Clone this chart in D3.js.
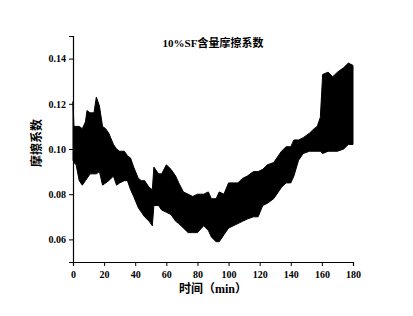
<!DOCTYPE html>
<html>
<head>
<meta charset="utf-8">
<script src="https://cdn.jsdelivr.net/npm/d3@7"></script>
<style>
  body { margin: 0; background: #fff; }
  svg text { font-family: "Liberation Serif", "Noto Sans CJK SC", serif; font-weight: bold; }
</style>
</head>
<body>
<div id="chart"></div>
<script>
const chartWidth = 413
const chartHeight = 316
const margin = { top: 36, right: 60, bottom: 54, left: 73 }

// 讀圖得到的上下包絡線 (時間 min, 摩擦系數)
const minutes = [0, 0.6, 2, 4, 6, 8, 9, 11, 13.5, 15, 17, 19, 21, 23, 26, 28, 30, 33, 35, 37, 39, 42, 44, 46, 49, 51, 52, 55, 57, 60, 63, 66, 68, 71, 74, 77, 80, 84, 87, 89, 92, 94, 97, 100, 103, 106, 109, 112, 116, 119, 122, 125, 129, 132, 134, 137, 140, 142, 145, 148, 152, 155, 157, 159, 160.5, 164, 167, 170, 174, 177, 180]
const upper = [0.121, 0.110, 0.110, 0.110, 0.109, 0.112, 0.117, 0.116, 0.116, 0.123, 0.119, 0.110, 0.109, 0.107, 0.102, 0.100, 0.099, 0.099, 0.097, 0.096, 0.092, 0.087, 0.086, 0.086, 0.083, 0.082, 0.092, 0.089, 0.089, 0.093, 0.091, 0.088, 0.085, 0.081, 0.080, 0.079, 0.080, 0.080, 0.081, 0.078, 0.078, 0.081, 0.080, 0.085, 0.085, 0.085, 0.087, 0.088, 0.090, 0.090, 0.091, 0.093, 0.094, 0.097, 0.099, 0.101, 0.101, 0.104, 0.104, 0.105, 0.107, 0.109, 0.110, 0.114, 0.133, 0.134, 0.132, 0.134, 0.136, 0.138, 0.137]
const lower = [0.095, 0.094, 0.093, 0.086, 0.084, 0.086, 0.087, 0.089, 0.089, 0.089, 0.090, 0.084, 0.085, 0.086, 0.088, 0.084, 0.085, 0.086, 0.086, 0.082, 0.079, 0.074, 0.072, 0.070, 0.068, 0.066, 0.075, 0.075, 0.073, 0.072, 0.071, 0.068, 0.067, 0.065, 0.063, 0.063, 0.063, 0.066, 0.064, 0.061, 0.059, 0.059, 0.062, 0.065, 0.066, 0.067, 0.068, 0.069, 0.070, 0.070, 0.075, 0.076, 0.078, 0.081, 0.083, 0.085, 0.085, 0.088, 0.095, 0.098, 0.099, 0.099, 0.099, 0.099, 0.098, 0.099, 0.099, 0.099, 0.100, 0.102, 0.102]

const xTicks = [0, 20, 40, 60, 80, 100, 120, 140, 160, 180]
const yTicks = [0.06, 0.08, 0.10, 0.12, 0.14]

const titleText = '10%SF含量摩擦系数'
const xLabel = '时间（min）'
const yLabel = '摩擦系数'

const svg = d3
  .select('#chart')
  .append('svg')
  .attr('width', chartWidth)
  .attr('height', chartHeight)

const x = d3.scaleLinear().domain([0, 180]).range([margin.left, chartWidth - margin.right])
const y = d3.scaleLinear().domain([0.05, 0.15]).range([chartHeight - margin.bottom, margin.top])

// 資料帶
const band = minutes.map((m, i) => ({ m, hi: upper[i], lo: lower[i] }))
svg
  .append('path')
  .datum(band)
  .attr('fill', '#000')
  .attr('stroke', '#000')
  .attr('stroke-width', 1)
  .attr('d', d3.area().x(d => x(d.m)).y0(d => y(d.lo)).y1(d => y(d.hi)))

// 次刻度
const xAxisG = svg.append('g').attr('transform', `translate(0,${y.range()[0]})`)
xAxisG.call(d3.axisBottom(x).tickValues(d3.range(0, 181, 10)).tickSize(2).tickFormat(''))
xAxisG.call(d3.axisBottom(x).tickValues(xTicks).tickSize(4).tickFormat(d3.format('d')))

const yAxisG = svg.append('g').attr('transform', `translate(${x.range()[0]},0)`)
yAxisG.call(d3.axisLeft(y).tickValues(d3.range(0.05, 0.1501, 0.01)).tickSize(2).tickFormat(''))
yAxisG.call(d3.axisLeft(y).tickValues(yTicks).tickSize(4).tickFormat(d3.format('.2f')))

svg.selectAll('.domain').attr('stroke', '#000').attr('stroke-width', 1.2)
svg.selectAll('.tick line').attr('stroke', '#000')
svg.selectAll('.tick text').style('font-size', '10px').attr('fill', '#000')
xAxisG.selectAll('.tick text').attr('dy', '0.9em')

// 標題與軸標籤
svg
  .append('text')
  .attr('x', 213)
  .attr('y', 47)
  .attr('text-anchor', 'middle')
  .style('font-size', '11px')
  .text(titleText)

svg
  .append('text')
  .attr('x', 213)
  .attr('y', 293)
  .attr('text-anchor', 'middle')
  .style('font-size', '12px')
  .text(xLabel)

svg
  .append('text')
  .attr('transform', 'translate(41,143) rotate(-90)')
  .attr('text-anchor', 'middle')
  .style('font-size', '12px')
  .text(yLabel)
</script>
</body>
</html>
